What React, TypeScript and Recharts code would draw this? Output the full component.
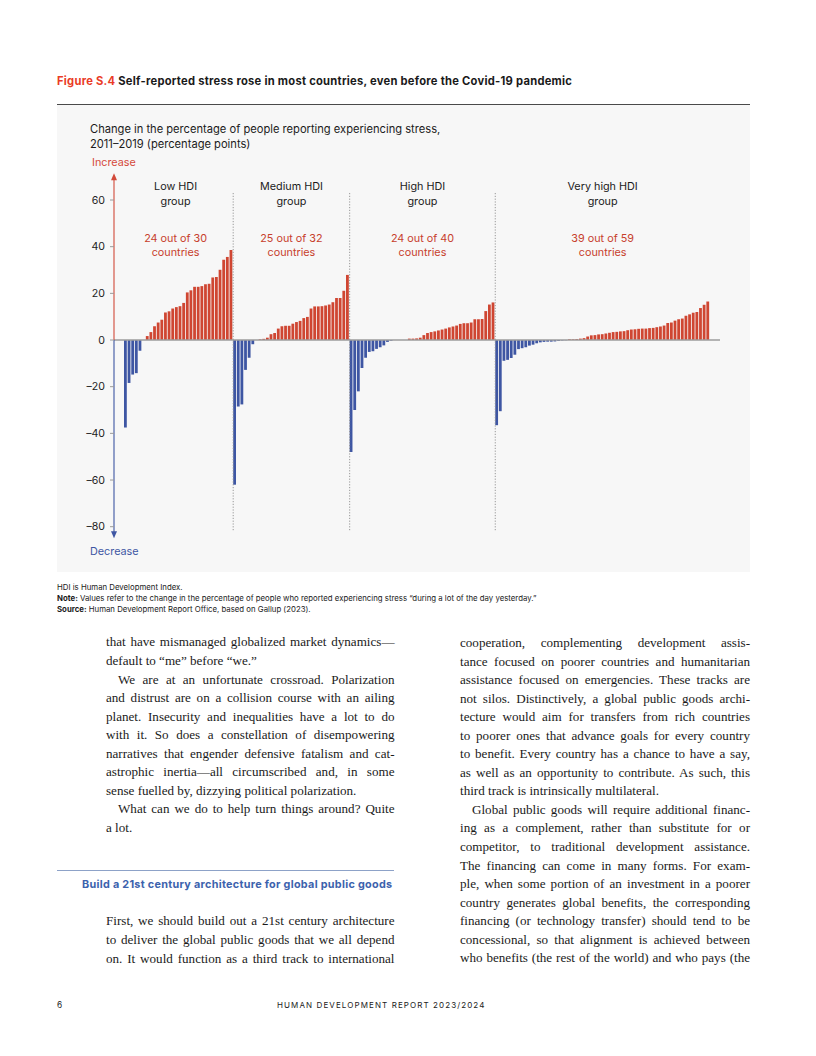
import React from 'react';
import { BarChart, Bar, XAxis, YAxis, Cell, ReferenceLine, ReferenceArea } from 'recharts';

// ---------- data ----------
const groupKeys = ['L', 'M', 'H', 'V'];
const groupNames = ['Low HDI', 'Medium HDI', 'High HDI', 'Very high HDI'];
const groupCounts = ['24 out of 30', '25 out of 32', '24 out of 40', '39 out of 59'];

const lowHdi = [
  -37.5, -18.4, -14.8, -14.2, -4.6, 0,
  1.7, 3.4, 5.9, 7.5, 8.7, 11.8, 12.3, 13.5, 14.1, 14.5, 15.9, 20.4, 21.3, 22.8,
  22.8, 23.1, 23.9, 24.1, 26.8, 27.0, 30.1, 34.4, 35.6, 38.6,
];
const mediumHdi = [
  -62, -28.5, -27.6, -12.8, -7.6, -1.8, 0,
  0.3, 0.5, 1, 2.5, 3, 4.9, 5.9, 6.1, 6.1, 7, 7.7, 8.2, 9.4, 9.9, 13.5, 14.4,
  14.4, 14.5, 14.8, 15.2, 16.2, 18, 18, 21.1, 27.9,
];
const highHdi = [
  -48, -30, -22, -12, -7.6, -5.1, -4.8, -3.8, -3.1, -2.3, -0.8, -0.3,
  0, 0, 0, 0,
  0.6, 0.6, 0.7, 1, 2.1, 3, 3.4, 3.7, 4.1, 4.5, 4.9, 5.4, 5.8, 6.2, 6.9, 7.2,
  7.2, 7.5, 8.9, 8.9, 9, 12.4, 15.2, 16.1,
];
const veryHighHdi = [
  -36.5, -30.5, -8.9, -8.5, -7.7, -6.3, -3.9, -3.5, -3.1, -2.4, -2, -1.4, -1,
  -0.8, -0.7, -0.7, -0.6, -0.4, -0.2, -0.1,
  0.3, 0.3, 0.4, 0.6, 0.8, 1.5, 2, 2.1, 2.4, 2.5, 2.8, 3.1, 3.4, 3.5, 3.7, 3.8,
  4.2, 4.5, 4.6, 4.8, 4.9, 4.9, 5.1, 5.2, 5.5, 5.8, 6.2, 7.3, 7.5, 8.3, 8.9,
  9.2, 10.4, 11, 11.7, 12, 13.7, 15.1, 16.5,
];
const yTicks = [-80, -60, -40, -20, 0, 20, 40, 60];

const groups = [lowHdi, mediumHdi, highHdi, veryHighHdi];
const data = groups.flatMap((vals, g) =>
  vals.map((v, i) => ({ name: `${groupKeys[g]}${i + 1}`, group: g, value: v }))
);

// ---------- styles ----------
const RED = '#cf4632';
const BLUE = '#3e56a3';
const SANS = 'Inter, "Noto Sans", sans-serif';
const SERIF = '"Liberation Serif", "DejaVu Serif", serif';

const ArrowLine = (color: string) => (props: any) => {
  const { x1, y1, x2, y2 } = props;
  const dir = y2 < y1 ? 1 : -1;
  return (
    <g>
      <line x1={x1} y1={y1} x2={x2} y2={y2 + dir * 4} stroke={color} strokeWidth={1.1} />
      <polygon
        points={`${x2},${y2} ${x2 - 3},${y2 + dir * 7} ${x2 + 3},${y2 + dir * 7}`}
        fill={color}
      />
    </g>
  );
};

const GroupLabel = (g: number) => (props: any) => {
  const vb = props.viewBox;
  const cx = vb.x + vb.width / 2 - (g === 0 ? 3 : 0);
  const top = vb.y;
  return (
    <g fontFamily={SANS} fontSize={10.8} textAnchor="middle">
      <text x={cx} y={top} dy="0.35em" fill="#1b1b1b">{groupNames[g]}</text>
      <text x={cx} y={top + 15} dy="0.35em" fill="#1b1b1b">group</text>
      <text x={cx} y={top + 52} dy="0.35em" fill="#c7402d">{groupCounts[g]}</text>
      <text x={cx} y={top + 66} dy="0.35em" fill="#c7402d">countries</text>
    </g>
  );
};

const fmtTick = (v: number) => (v < 0 ? `\u2013${Math.abs(v)}` : `${v}`);

// ---------- body text ----------
type Line = { t: string; indent?: boolean; last?: boolean };
const leftTop: Line[] = [
  { t: 'that have mismanaged globalized market dynamics\u2014' },
  { t: 'default to \u201cme\u201d before \u201cwe.\u201d', last: true },
  { t: 'We are at an unfortunate crossroad. Polarization', indent: true },
  { t: 'and distrust are on a collision course with an ailing' },
  { t: 'planet. Insecurity and inequalities have a lot to do' },
  { t: 'with it. So does a constellation of disempowering' },
  { t: 'narratives that engender defensive fatalism and cat-' },
  { t: 'astrophic inertia\u2014all circumscribed and, in some' },
  { t: 'sense fuelled by, dizzying political polarization.', last: true },
  { t: 'What can we do to help turn things around? Quite', indent: true },
  { t: 'a lot.', last: true },
];
const leftBottom: Line[] = [
  { t: 'First, we should build out a 21st century architecture' },
  { t: 'to deliver the global public goods that we all depend' },
  { t: 'on. It would function as a third track to international' },
];
const rightCol: Line[] = [
  { t: 'cooperation, complementing development assis-' },
  { t: 'tance focused on poorer countries and humanitarian' },
  { t: 'assistance focused on emergencies. These tracks are' },
  { t: 'not silos. Distinctively, a global public goods archi-' },
  { t: 'tecture would aim for transfers from rich countries' },
  { t: 'to poorer ones that advance goals for every country' },
  { t: 'to benefit. Every country has a chance to have a say,' },
  { t: 'as well as an opportunity to contribute. As such, this' },
  { t: 'third track is intrinsically multilateral.', last: true },
  { t: 'Global public goods will require additional financ-', indent: true },
  { t: 'ing as a complement, rather than substitute for or' },
  { t: 'competitor, to traditional development assistance.' },
  { t: 'The financing can come in many forms. For exam-' },
  { t: 'ple, when some portion of an investment in a poorer' },
  { t: 'country generates global benefits, the corresponding' },
  { t: 'financing (or technology transfer) should tend to be' },
  { t: 'concessional, so that alignment is achieved between' },
  { t: 'who benefits (the rest of the world) and who pays (the' },
];

const LH = 18.55;
const TextBlock = ({ lines, left, top, width }: { lines: Line[]; left: number; top: number; width: number }) => (
  <div style={{ position: 'absolute', left, top, width, fontFamily: SERIF, fontSize: 13.1, color: '#1a1a1a' }}>
    {lines.map((l, i) => (
      <div
        key={i}
        style={{
          height: LH,
          lineHeight: `${LH}px`,
          paddingLeft: l.indent ? 12 : 0,
          textAlign: l.last ? 'left' : 'justify',
          textAlignLast: l.last ? 'left' : 'justify',
          overflow: 'visible',
        }}
      >
        {l.t}
      </div>
    ))}
  </div>
);

export default function App() {
  return (
    <div style={{ position: 'absolute', left: 0, top: 0, width: 816, height: 1056, background: '#fff', fontFamily: SANS }}>
      {/* Title */}
      <div style={{ position: 'absolute', left: 57, top: 74, fontSize: 11.2, letterSpacing: 0.25, fontWeight: 700, color: '#1a1a1a', whiteSpace: 'nowrap', lineHeight: '14px' }}>
        <span style={{ color: '#ea3b26' }}>Figure S.4</span> Self-reported stress rose in most countries, even before the Covid-19 pandemic
      </div>
      <div style={{ position: 'absolute', left: 57, top: 103.5, width: 693, height: 1.2, background: '#4a4a4a' }} />

      {/* Panel */}
      <div style={{ position: 'absolute', left: 57, top: 105, width: 693, height: 467, background: '#f7f7f7' }}>
        <BarChart
          width={693}
          height={467}
          data={data}
          margin={{ top: 67, right: 30, bottom: 31.3, left: 0 }}
          barSize={2.8}
        >
          <XAxis dataKey="name" type="category" hide padding={{ left: 10, right: 10 }} />
          <XAxis xAxisId="frame" type="number" domain={[0, 1]} hide allowDataOverflow />
          <YAxis
            type="number"
            domain={[-86, 72]}
            ticks={yTicks}
            interval={0}
            width={57}
            axisLine={false}
            tickLine={{ stroke: '#9a9a9a' }}
            tickSize={4}
            tickMargin={5}
            tickFormatter={fmtTick}
            tick={{ fontSize: 10.6, fill: '#222', fontFamily: SANS }}
            allowDataOverflow
          />
          <ReferenceLine y={0} stroke="#9c9c9c" strokeWidth={1.6} />
          <Bar dataKey="value" isAnimationActive={false}>
            {data.map((d) => (
              <Cell key={d.name} fill={d.value >= 0 ? RED : BLUE} />
            ))}
          </Bar>
          {groupKeys.slice(1).map((k) => (
            <ReferenceLine
              key={k}
              segment={[{ x: `${k}1`, y: -81.5 }, { x: `${k}1`, y: 63.5 }]}
              position="start"
              stroke="#8c8c8c"
              strokeWidth={0.9}
              strokeDasharray="1.2 1.6"
              ifOverflow="visible"
            />
          ))}
          {groups.map((vals, g) => (
            <ReferenceArea
              key={`area-${g}`}
              x1={`${groupKeys[g]}1`}
              x2={`${groupKeys[g]}${vals.length}`}
              y1={37}
              y2={66}
              fillOpacity={0}
              strokeOpacity={0}
              ifOverflow="visible"
              label={GroupLabel(g)}
            />
          ))}
          <ReferenceLine
            xAxisId="frame"
            segment={[{ x: 0, y: 0 }, { x: 0, y: 71.5 }]}
            shape={ArrowLine('#d24a3a')}
            ifOverflow="visible"
          />
          <ReferenceLine
            xAxisId="frame"
            segment={[{ x: 0, y: 0 }, { x: 0, y: -85 }]}
            shape={ArrowLine(BLUE)}
            ifOverflow="visible"
          />
        </BarChart>

        {/* subtitle and direction labels */}
        <div style={{ position: 'absolute', left: 33, top: 17, fontSize: 11.15, color: '#1b1b1b', lineHeight: '14.5px', whiteSpace: 'nowrap' }}>
          Change in the percentage of people reporting experiencing stress,
          <br />
          2011–2019 (percentage points)
        </div>
        <div style={{ position: 'absolute', left: 35, top: 51, fontSize: 10.8, color: '#d5493b', lineHeight: '14px' }}>Increase</div>
        <div style={{ position: 'absolute', left: 33, top: 440, fontSize: 10.8, color: BLUE, lineHeight: '14px' }}>Decrease</div>
      </div>

      {/* Notes */}
      <div style={{ position: 'absolute', left: 57, top: 582, fontSize: 7.8, color: '#1a1a1a', lineHeight: '10.9px', whiteSpace: 'nowrap' }}>
        <div>HDI is Human Development Index.</div>
        <div>
          <b>Note:</b> Values refer to the change in the percentage of people who reported experiencing stress “during a lot of the day yesterday.”
        </div>
        <div>
          <b>Source:</b> Human Development Report Office, based on Gallup (2023).
        </div>
      </div>

      {/* Body text */}
      <TextBlock lines={leftTop} left={106} top={642.7 - LH / 2} width={288.5} />
      <div style={{ position: 'absolute', left: 57, top: 869.5, width: 337, height: 1, background: '#8da2c8' }} />
      <div style={{ position: 'absolute', left: 82, top: 878, fontSize: 10.8, letterSpacing: 0.3, fontWeight: 700, color: '#3c62ad', lineHeight: '14px', whiteSpace: 'nowrap' }}>
        Build a 21st century architecture for global public goods
      </div>
      <TextBlock lines={leftBottom} left={106} top={921.7 - LH / 2} width={288.5} />
      <TextBlock lines={rightCol} left={460} top={643.3 - LH / 2} width={290} />

      {/* Footer */}
      <div style={{ position: 'absolute', left: 57, top: 999, fontSize: 8.3, color: '#222', lineHeight: '12px' }}>6</div>
      <div style={{ position: 'absolute', left: 277, top: 999, fontSize: 8, color: '#222', letterSpacing: 1.1, lineHeight: '12px', whiteSpace: 'nowrap' }}>
        HUMAN DEVELOPMENT REPORT 2023/2024
      </div>
    </div>
  );
}
